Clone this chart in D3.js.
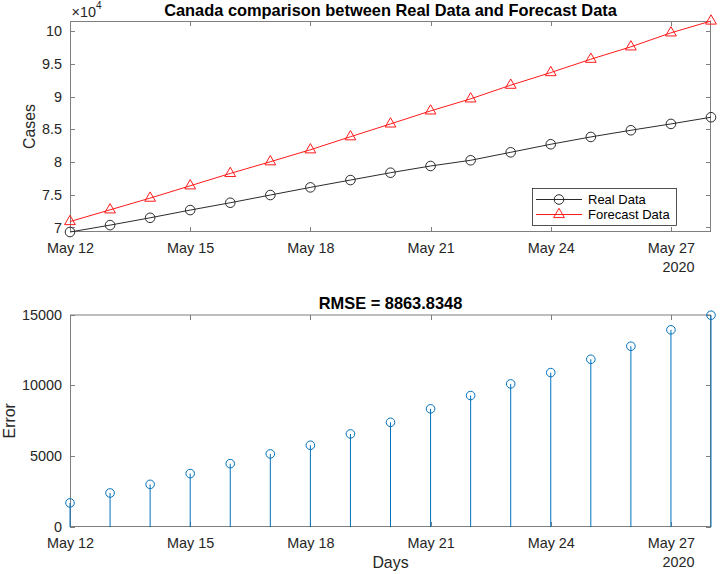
<!DOCTYPE html>
<html>
<head>
<meta charset="utf-8">
<script src="https://cdn.jsdelivr.net/npm/d3@7"></script>
<style>
  html, body { margin: 0; padding: 0; background: #fff; }
  svg { display: block; font-family: "Liberation Sans", Arial, Helvetica, sans-serif; }
</style>
</head>
<body>
<svg id="chart" width="721" height="574"></svg>
<script>
// ---------------- DATA ----------------
const dates = ["2020-05-12","2020-05-13","2020-05-14","2020-05-15","2020-05-16","2020-05-17",
  "2020-05-18","2020-05-19","2020-05-20","2020-05-21","2020-05-22","2020-05-23","2020-05-24",
  "2020-05-25","2020-05-26","2020-05-27","2020-05-28"];
const realData = [69300, 70350, 71470, 72650, 73770, 74950, 76120, 77240, 78360, 79390,
  80260, 81480, 82710, 83830, 84850, 85820, 86840];
const forecastData = [70900, 72690, 74480, 76360, 78250, 80040, 81870, 83860, 85820, 87810,
  89650, 91740, 93670, 95710, 97600, 99740, 101550];
const errorData = [1700, 2400, 3010, 3770, 4470, 5160, 5770, 6570, 7390, 8340,
  9280, 10100, 10900, 11840, 12760, 13920, 14950];
const xTickDates = ["2020-05-12","2020-05-15","2020-05-18","2020-05-21","2020-05-24","2020-05-27"];
const casesTicks = [70000, 75000, 80000, 85000, 90000, 95000, 100000];
const casesTickLabels = ["7","7.5","8","8.5","9","9.5","10"];
const errorTicks = [0, 5000, 10000, 15000];
const errorTickLabels = ["0","5000","10000","15000"];
const seriesNames = ["Real Data", "Forecast Data"];
const yearLabel = "2020";
const title1 = "Canada comparison between Real Data and Forecast Data";
const title2 = "RMSE = 8863.8348";

// ---------------- SETUP ----------------
const parse = d3.timeParse("%Y-%m-%d");
const fmt = d3.timeFormat("%b %-d");
const D = dates.map(parse);
const xTicks = xTickDates.map(parse);

const svg = d3.select("#chart");
svg.append("rect").attr("width", 721).attr("height", 574).attr("fill", "#fff");

const L = 70, R = 711;
const top1 = 21, bot1 = 232;
const top2 = 314.5, bot2 = 527;

const AX = "#7f7f7f", TXT = "#262626";
const tickFont = "14.4px", labFont = "15.9px", titleFont = "16.4px";

const x = d3.scaleTime().domain(d3.extent(D)).range([L, R]);
const y1 = d3.scaleLinear().domain([d3.min(realData), d3.max(forecastData)]).range([bot1, top1]);
const y2 = d3.scaleLinear().domain([0, 15000]).range([bot2, top2]);

function styleAxis(g) {
  g.select(".domain").remove();
  g.selectAll(".tick line").attr("stroke", AX).attr("shape-rendering", "crispEdges");
  g.selectAll(".tick text").attr("fill", TXT).style("font-size", tickFont)
    .style("font-family", '"Liberation Sans", Arial, Helvetica, sans-serif');
}

function drawAxes(y, top, bot, ticks, labels) {
  const g = svg.append("g");
  g.append("g").attr("transform", `translate(0,${bot})`)
    .call(d3.axisBottom(x).tickValues(xTicks).tickFormat(fmt).tickSizeInner(-5).tickSizeOuter(0).tickPadding(11))
    .call(styleAxis);
  g.append("g").attr("transform", `translate(0,${top})`)
    .call(d3.axisTop(x).tickValues(xTicks).tickFormat("").tickSizeInner(-5).tickSizeOuter(0))
    .call(styleAxis);
  g.append("g").attr("transform", `translate(${L},0)`)
    .call(d3.axisLeft(y).tickValues(ticks).tickFormat((d, i) => labels[i]).tickSizeInner(-5).tickSizeOuter(0).tickPadding(8))
    .call(styleAxis);
  g.append("g").attr("transform", `translate(${R},0)`)
    .call(d3.axisRight(y).tickValues(ticks).tickFormat("").tickSizeInner(-5).tickSizeOuter(0))
    .call(styleAxis);
  g.append("rect").attr("x", L + 0.5).attr("y", top + 0.5).attr("width", R - L - 1).attr("height", bot - top - 1)
    .attr("fill", "none").attr("stroke", AX).attr("stroke-width", 1);
  // year label
  const lastTick = xTicks[xTicks.length - 1];
  g.append("text").attr("x", x(lastTick) + 23.5).attr("y", bot + 40)
    .attr("text-anchor", "end").attr("fill", TXT).style("font-size", tickFont).text(yearLabel);
}

// ---------------- TOP PLOT ----------------
drawAxes(y1, top1, bot1, casesTicks, casesTickLabels);

const lineGen = d3.line().x((d, i) => x(D[i])).y(d => y1(d));
const REAL = "#2b2b2b", FC = "#ff1a1a";
svg.append("path").datum(realData).attr("d", lineGen).attr("fill", "none").attr("stroke", REAL).attr("stroke-width", 1);
svg.append("path").datum(forecastData).attr("d", lineGen).attr("fill", "none").attr("stroke", FC).attr("stroke-width", 1);

svg.append("g").selectAll("circle").data(realData).join("circle")
  .attr("cx", (d, i) => x(D[i])).attr("cy", d => y1(d)).attr("r", 4.8)
  .attr("fill", "none").attr("stroke", REAL).attr("stroke-width", 1);

const tri = d3.symbol().type(d3.symbolTriangle).size(50);
svg.append("g").selectAll("path").data(forecastData).join("path")
  .attr("d", tri).attr("transform", (d, i) => `translate(${x(D[i])},${y1(d)})`)
  .attr("fill", "none").attr("stroke", FC).attr("stroke-width", 1);

// title, label, exponent
svg.append("text").attr("x", (L + R) / 2).attr("y", 16).attr("text-anchor", "middle")
  .attr("fill", "#000").style("font-size", titleFont).style("font-weight", "bold").text(title1);
svg.append("text").attr("transform", `translate(35,${(top1 + bot1) / 2}) rotate(-90)`)
  .attr("text-anchor", "middle").attr("fill", TXT).style("font-size", labFont).text("Cases");
const ex = svg.append("text").attr("x", 71.5).attr("y", 17).attr("fill", TXT).style("font-size", tickFont);
ex.append("tspan").text("\u00d710");
ex.append("tspan").attr("dy", -8).style("font-size", "10px").text("4");

// legend
const lg = svg.append("g");
lg.append("rect").attr("x", 532.5).attr("y", 188.5).attr("width", 144).attr("height", 37)
  .attr("fill", "#fff").attr("stroke", TXT).attr("stroke-width", 0.8);
seriesNames.forEach((name, i) => {
  const cy = 199.5 + i * 15;
  const col = i === 0 ? REAL : FC;
  lg.append("line").attr("x1", 536).attr("x2", 582).attr("y1", cy).attr("y2", cy)
    .attr("stroke", col).attr("stroke-width", 1);
  if (i === 0) {
    lg.append("circle").attr("cx", 559).attr("cy", cy).attr("r", 4.8).attr("fill", "none").attr("stroke", col);
  } else {
    lg.append("path").attr("d", tri).attr("transform", `translate(559,${cy})`).attr("fill", "none").attr("stroke", col);
  }
  lg.append("text").attr("x", 588).attr("y", cy + 4.5).attr("fill", "#000").style("font-size", "13px").text(name);
});

// ---------------- BOTTOM PLOT ----------------
drawAxes(y2, top2, bot2, errorTicks, errorTickLabels);

const STEM = "#0072BD";
svg.append("g").selectAll("line").data(errorData).join("line")
  .attr("x1", (d, i) => x(D[i])).attr("x2", (d, i) => x(D[i]))
  .attr("y1", y2(0)).attr("y2", d => y2(d))
  .attr("stroke", STEM).attr("stroke-width", 1);
svg.append("g").selectAll("circle").data(errorData).join("circle")
  .attr("cx", (d, i) => x(D[i])).attr("cy", d => y2(d)).attr("r", 4.3)
  .attr("fill", "none").attr("stroke", STEM).attr("stroke-width", 1);

svg.append("text").attr("x", (L + R) / 2).attr("y", 309).attr("text-anchor", "middle")
  .attr("fill", "#000").style("font-size", titleFont).style("font-weight", "bold").text(title2);
svg.append("text").attr("transform", `translate(14.5,${(top2 + bot2) / 2}) rotate(-90)`)
  .attr("text-anchor", "middle").attr("fill", TXT).style("font-size", labFont).text("Error");
svg.append("text").attr("x", (L + R) / 2).attr("y", 568).attr("text-anchor", "middle")
  .attr("fill", TXT).style("font-size", labFont).text("Days");
</script>
</body>
</html>
